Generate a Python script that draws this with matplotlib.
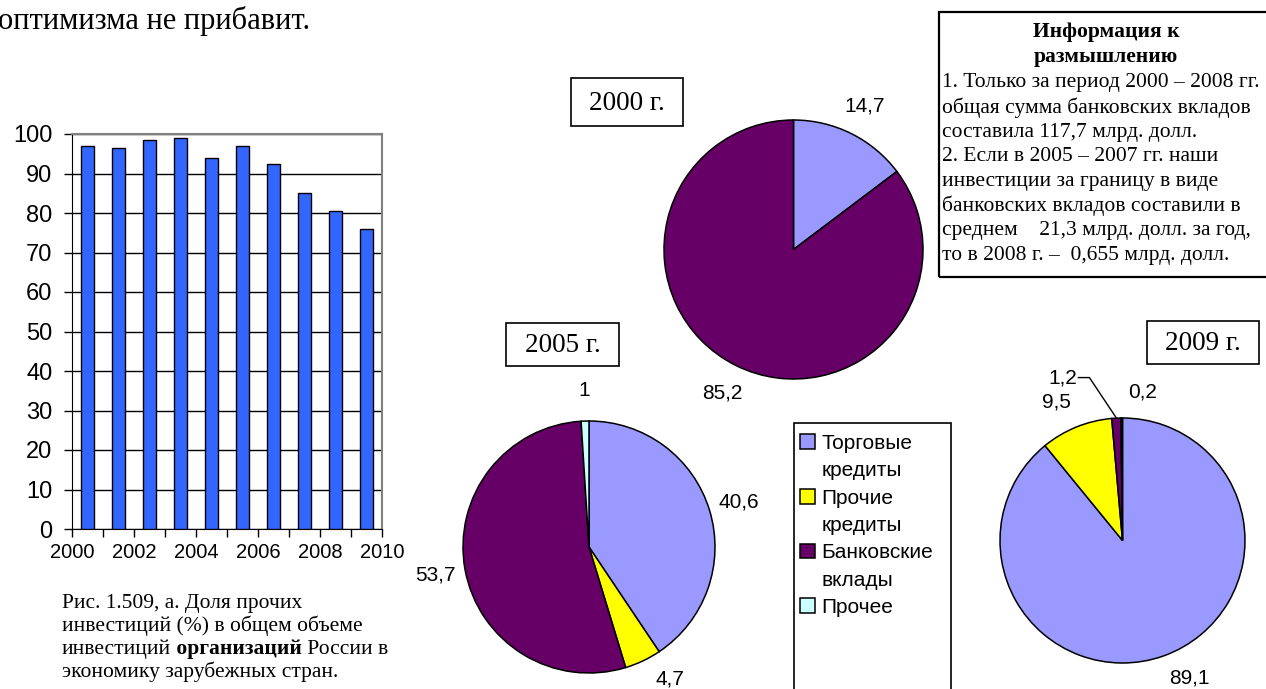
import matplotlib.pyplot as plt
from matplotlib.patches import Rectangle

plt.rcParams['font.family'] = ['Liberation Sans', 'DejaVu Sans']
SERIF = ['Liberation Serif', 'DejaVu Serif']

W, H = 1266, 689

# share of "other" investments by year, %
years = [2000, 2001, 2002, 2003, 2004, 2005, 2006, 2007, 2008, 2009]
share = [97, 96.5, 98.5, 99, 94, 97, 92.5, 85, 80.5, 76]

# structure of other investments, %
categories = ['Торговые', 'Прочие', 'Банковские', 'Прочее']
categories_2nd = ['кредиты', 'кредиты', 'вклады', '']
colors = ['#9999FF', '#FFFF00', '#660066', '#CCFFFF']
pie_2000 = [14.7, 0, 85.2, 0]
pie_2005 = [40.6, 4.7, 53.7, 1]
pie_2009 = [89.1, 9.5, 1.2, 0.2]

info_lines = [
    '1. Только за период 2000 – 2008 гг.',
    'общая сумма банковских вкладов',
    'составила 117,7 млрд. долл.',
    '2. Если в 2005 – 2007 гг. наши',
    'инвестиции за границу в виде',
    'банковских вкладов составили в',
    'среднем    21,3 млрд. долл. за год,',
    'то в 2008 г. –  0,655 млрд. долл.',
]

caption = [
    ['Рис. 1.509, а. Доля прочих'],
    ['инвестиций (%) в общем объеме'],
    ['инвестиций', ' организаций', ' России в'],
    ['экономику зарубежных стран.'],
]


def fx(x):
    return x / W


def fy(y):
    return 1 - y / H


def frame(x0, y0, x1, y1, lw=1.2):
    fig.patches.append(Rectangle((fx(x0), fy(y1)), fx(x1 - x0), (y1 - y0) / H,
                                 transform=fig.transFigure, fill=False,
                                 edgecolor='black', linewidth=lw))


def fmt(v):
    return f'{v:g}'.replace('.', ',')


def draw_pie(cx, cy, r, values, dist=1.24):
    ax = fig.add_axes([fx(cx - r), fy(cy + r), 2 * r / W, 2 * r / H])
    keep = [i for i, v in enumerate(values) if v > 0]
    vals = [values[i] for i in keep]
    wedges, texts = ax.pie(vals, colors=[colors[i] for i in keep],
                           labels=[fmt(v) for v in vals], labeldistance=dist,
                           startangle=90, counterclock=False,
                           wedgeprops=dict(edgecolor='black', linewidth=1.1),
                           textprops=dict(fontsize=15))
    for t in texts:
        t.set_ha('center')
        t.set_va('center')
        t.set_clip_on(False)
    ax.set_xlim(-1, 1)
    ax.set_ylim(-1, 1)
    return ax, wedges, texts


fig = plt.figure(figsize=(W / 100, H / 100), dpi=100)

# text fragment above
fig.text(fx(-2), fy(21), 'оптимизма не прибавит.', family=SERIF, fontsize=22,
         ha='left', va='center')

# bar chart
ax = fig.add_axes([fx(72), fy(529), fx(310), 395 / H])
ax.bar([y + 0.5 for y in years], share, width=0.45, color='#3366FF',
       edgecolor='black', linewidth=1, zorder=3)
ax.set_xlim(2000, 2010)
ax.set_ylim(0, 100)
ax.set_yticks(range(0, 101, 10))
ax.set_xticks(range(2000, 2011))
ax.set_xticklabels([str(y) if y % 2 == 0 else '' for y in range(2000, 2011)])
ax.yaxis.grid(True, color='black', linewidth=1)
ax.set_axisbelow(True)
ax.tick_params(direction='out', length=6, width=1)
ax.tick_params(axis='y', labelsize=17, pad=8)
ax.tick_params(axis='x', labelsize=14.5, pad=4)
for side in ['top', 'right']:
    ax.spines[side].set_color('#808080')
    ax.spines[side].set_linewidth(1.5)

# figure caption, the middle word of the third line in bold
for i, parts in enumerate(caption):
    prev = fig.text(fx(62), fy(608 + i * 23), parts[0], family=SERIF,
                    fontsize=15.5, ha='left', va='baseline')
    for j, part in enumerate(parts[1:]):
        prev = ax.annotate(part, xy=(1, 0), xycoords=prev, va='bottom',
                           ha='left', family=SERIF, fontsize=15.5,
                           fontweight='bold' if j == 0 else 'normal',
                           annotation_clip=False)

# pies
draw_pie(793.5, 249.5, 129.5, pie_2000)
_, wedges, texts5 = draw_pie(589, 547, 126, pie_2005)
texts5[1].set_position((0.64, -1.05))
ax9, _, texts9 = draw_pie(1122.5, 540.5, 122.5, pie_2009)
texts9[0].set_position((0.55, -1.12))
texts9[1].set_position((-0.54, 1.13))
texts9[2].set_position((-0.37, 1.33))
texts9[2].set_ha('right')
texts9[3].set_position((0.16, 1.21))
ax9.plot([-0.36, -0.27, -0.05], [1.33, 1.33, 1.0], color='black', lw=1,
         clip_on=False)

# year boxes
for x0, y0, x1, y1, label in [(571, 78, 683, 126, '2000 г.'),
                              (506, 323, 619, 366, '2005 г.'),
                              (1147, 321, 1259, 364, '2009 г.')]:
    frame(x0, y0, x1, y1)
    fig.text(fx((x0 + x1) / 2), fy((y0 + y1) / 2 + 1), label, family=SERIF,
             fontsize=19.5, ha='center', va='center')

# legend, one text line per row
blank = Rectangle((0, 0), 1, 1, fill=False, edgecolor='none')
handles, labels = [], []
for w, a, b in zip(wedges, categories, categories_2nd):
    handles.append(w)
    labels.append(a)
    if b:
        handles.append(blank)
        labels.append(b)
fig.legend(handles, labels, loc='upper left', bbox_to_anchor=(fx(800), fy(434)),
           frameon=False, fontsize=15, handlelength=0.72, handleheight=0.72,
           handletextpad=0.3, labelspacing=0.4, borderpad=0, borderaxespad=0)
frame(794, 423, 951, 700)

# info box
frame(939, 12, 1275, 277, lw=1.6)
fig.text(fx(1106), fy(32), 'Информация к', family=SERIF, fontsize=15.5,
         fontweight='bold', ha='center', va='center')
fig.text(fx(1106), fy(57), 'размышлению', family=SERIF, fontsize=15.5,
         fontweight='bold', ha='center', va='center')
for i, line in enumerate(info_lines):
    fig.text(fx(942), fy(83 + i * 24.6), line, family=SERIF, fontsize=15.5,
             ha='left', va='center')

fig.savefig('out.png', dpi=100)
